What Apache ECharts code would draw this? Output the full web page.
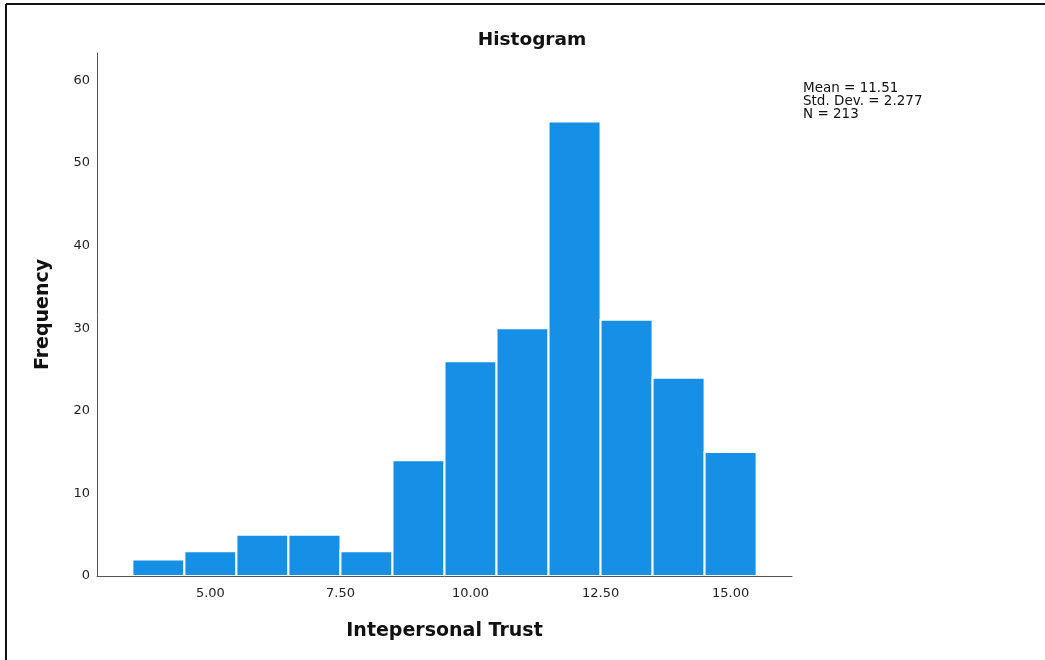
<!DOCTYPE html>
<html>
<head>
<meta charset="utf-8">
<script src="https://cdn.jsdelivr.net/npm/echarts@6/dist/echarts.min.js"></script>
<style>
html,body{margin:0;padding:0;background:#fff;}
#chart{width:1045px;height:660px;}
</style>
</head>
<body>
<div id="chart"></div>
<script>
// Bin centers (width 1) and frequencies
var binCenters = [4, 5, 6, 7, 8, 9, 10, 11, 12, 13, 14, 15];
var frequencies = [2, 3, 5, 5, 3, 14, 26, 30, 55, 31, 24, 15];
var xTickValues = [5, 7.5, 10, 12.5, 15];
var yTickValues = [0, 10, 20, 30, 40, 50, 60];
var statsLines = ['Mean = 11.51', 'Std. Dev. = 2.277', 'N = 213'];
var binWidth = 1;

var data = binCenters.map(function (c, i) { return [c, frequencies[i]]; });

var chart = echarts.init(document.getElementById('chart'), null, {renderer: 'canvas'});
var font = 'DejaVu Sans';
chart.setOption({
  backgroundColor: '#fff',
  animation: false,
  title: {
    text: 'Histogram',
    left: 527, top: 26, textAlign: 'center',
    textStyle: {fontFamily: font, fontWeight: 'bold', fontSize: 18.5, color: '#111'}
  },
  grid: {left: 97, top: 53, width: 695, height: 523, containLabel: false},
  xAxis: {
    type: 'value', min: 2.82, max: 16.18, z: 10,
    name: 'Intepersonal Trust', nameLocation: 'middle', nameGap: 46,
    nameTextStyle: {fontFamily: font, fontWeight: 'bold', fontSize: 19, color: '#111'},
    axisLine: {show: true, onZero: false, lineStyle: {color: '#555', width: 1}},
    axisTick: {show: false},
    splitLine: {show: false},
    axisLabel: {
      customValues: xTickValues, margin: 11,
      fontFamily: font, fontSize: 13, color: '#222',
      formatter: function (v) { return v.toFixed(2); }
    }
  },
  yAxis: {
    type: 'value', min: 0, max: 63.3, z: 10,
    name: 'Frequency', nameLocation: 'middle', nameGap: 44, nameRotate: 90,
    nameTextStyle: {fontFamily: font, fontWeight: 'bold', fontSize: 19, color: '#111'},
    axisLine: {show: true, lineStyle: {color: '#555', width: 1}},
    axisTick: {show: false},
    splitLine: {show: false},
    axisLabel: {
      customValues: yTickValues, margin: 7,
      fontFamily: font, fontSize: 13, color: '#222'
    }
  },
  series: [{
    type: 'custom',
    z: 1,
    data: data,
    renderItem: function (params, api) {
      var x = api.value(0), y = api.value(1);
      var p0 = api.coord([x - binWidth / 2, y]);
      var p1 = api.coord([x + binWidth / 2, 0]);
      return {
        type: 'rect',
        shape: {x: p0[0], y: p0[1], width: p1[0] - p0[0], height: p1[1] - p0[1]},
        style: {fill: '#1590e6', stroke: '#ffffff', lineWidth: 2}
      };
    }
  }],
  graphic: [
    {type: 'line', shape: {x1: 6, y1: 4, x2: 1045, y2: 4}, style: {stroke: '#111', lineWidth: 2}},
    {type: 'line', shape: {x1: 6, y1: 4, x2: 6, y2: 660}, style: {stroke: '#111', lineWidth: 2}},
    {type: 'text', left: 803, top: 81,
     style: {text: statsLines.join('\n'), font: '13.5px "' + font + '"', fill: '#111', lineHeight: 13}}
  ]
});
</script>
</body>
</html>
